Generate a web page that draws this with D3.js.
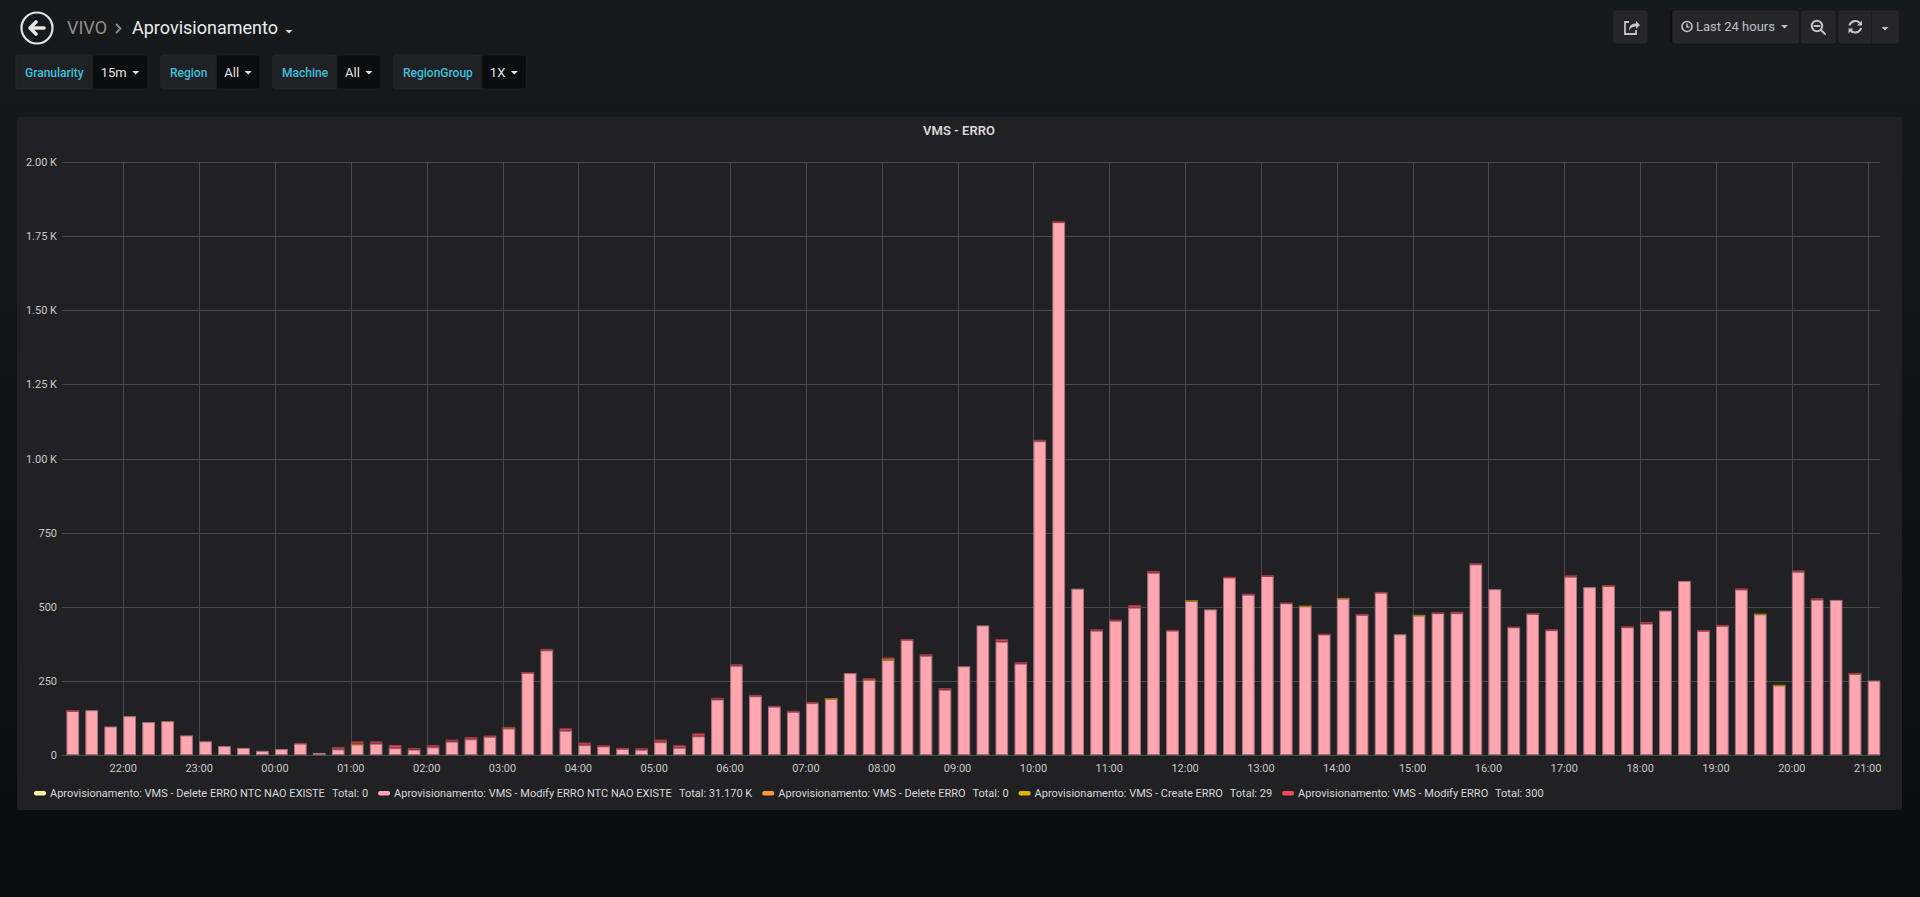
<!DOCTYPE html>
<html>
<head>
<meta charset="utf-8">
<title>VMS - ERRO</title>
<script src="https://cdn.jsdelivr.net/npm/d3@7"></script>
<style>
  html, body { margin: 0; padding: 0; overflow: hidden; background: #161719; }
  svg { display: block; font-family: Roboto, 'Noto Sans', sans-serif; }
</style>
</head>
<body>
<svg id="chart" width="1920" height="897"></svg>
<script>
// series, bottom of the stack first (same order as the legend)
const seriesNames = [
  'Aprovisionamento: VMS - Delete ERRO NTC NAO EXISTE',
  'Aprovisionamento: VMS - Modify ERRO NTC NAO EXISTE',
  'Aprovisionamento: VMS - Delete ERRO',
  'Aprovisionamento: VMS - Create ERRO',
  'Aprovisionamento: VMS - Modify ERRO'
];
const seriesColors = ['#fff899', '#ffa6b0', '#ff9830', '#e0b400', '#f2495c'];
const seriesTotals = ['0', '31.170 K', '0', '29', '300'];

// one value per 15m bucket, 21:15 -> 21:00 next day
const deleteNtc = [
  0,0,0,0,0,0,0,0,0,0, 0,0,0,0,0,0,0,0,0,0, 0,0,0,0,0,0,0,0,0,0, 0,0,0,0,0,0,0,0,0,0,
  0,0,0,0,0,0,0,0,0,0, 0,0,0,0,0,0,0,0,0,0, 0,0,0,0,0,0,0,0,0,0, 0,0,0,0,0,0,0,0,0,0,
  0,0,0,0,0,0,0,0,0,0, 0,0,0,0,0,0
];
const modifyNtc = [
  150,151,96,131,111,114,66,46,30,24,
  14,20,40,7,19,37,38,23,18,26,
  45,53,61,90,279,353,81,33,29,21,
  17,43,24,63,187,300,198,164,146,175,
  190,276,253,321,390,334,220,299,437,382,
  308,1058,1797,561,419,452,497,614,421,520,
  491,600,541,605,513,502,408,528,473,549,
  407,471,478,478,643,559,432,476,421,601,
  566,570,431,443,487,587,419,436,558,475,
  235,617,524,523,274,251
];
const deleteErro = [
  0,0,0,0,0,0,0,0,0,0, 0,0,0,0,0,0,0,0,0,0, 0,0,0,0,0,0,0,0,0,0, 0,0,0,0,0,0,0,0,0,0,
  0,0,0,0,0,0,0,0,0,0, 0,0,0,0,0,0,0,0,0,0, 0,0,0,0,0,0,0,0,0,0, 0,0,0,0,0,0,0,0,0,0,
  0,0,0,0,0,0,0,0,0,0, 0,0,0,0,0,0
];
const createErro = [
  0,0,0,0,0,0,0,0,0,0,
  0,0,0,0,0,1,0,0,0,0,
  0,0,0,2,0,0,0,0,0,0,
  0,0,0,0,0,0,0,0,0,0,
  2,0,3,3,0,0,0,0,0,0,
  0,0,0,0,0,0,0,0,0,2,
  0,0,0,0,0,2,0,2,0,0,
  0,2,0,0,0,0,0,2,0,0,
  0,2,0,0,0,0,0,0,0,2,
  2,0,0,0,2,0
];
const modifyErro = [
  1,0,0,0,0,0,0,0,0,0,
  0,0,1,0,8,8,8,11,6,8,
  7,8,5,3,1,5,9,9,4,3,
  6,9,9,10,6,6,5,2,3,4,
  0,0,3,5,1,6,6,0,0,9,
  5,5,3,0,5,5,9,7,1,0,
  0,1,3,1,1,0,1,0,3,1,
  0,0,3,5,4,0,1,1,3,5,
  0,1,3,6,0,0,3,3,4,0,
  0,6,5,0,1,0
];
const seriesValues = [deleteNtc, modifyNtc, deleteErro, createErro, modifyErro];

const yTicks = [0, 250, 500, 750, 1000, 1250, 1500, 1750, 2000];
const variableLabels = ['Granularity', 'Region', 'Machine', 'RegionGroup'];
const variableValues = ['15m', 'All', 'All', '1X'];

const rangeFrom = new Date(2019, 5, 10, 21, 11, 30);
const rangeTo = new Date(2019, 5, 11, 21, 9, 45);
const firstBucket = new Date(2019, 5, 10, 21, 15);
const times = d3.timeMinute.every(15).range(firstBucket, rangeTo);

const svg = d3.select('#chart');

// page background, a bit darker toward the bottom
const defs = svg.append('defs');
const bg = defs.append('linearGradient').attr('id', 'pagebg').attr('x1', 0).attr('x2', 0).attr('y1', 0).attr('y2', 1);
bg.append('stop').attr('offset', '0%').attr('stop-color', '#18191b');
bg.append('stop').attr('offset', '100%').attr('stop-color', '#0b0c0e');
svg.append('rect').attr('width', 1920).attr('height', 897).attr('fill', 'url(#pagebg)');

// ---------- header ----------
const head = svg.append('g');
head.append('circle').attr('cx', 37).attr('cy', 28).attr('r', 15.5)
    .attr('fill', 'none').attr('stroke', '#e4e4e4').attr('stroke-width', 2.2);
head.append('path').attr('d', 'M30,28 L36,22 M30,28 L36,34 M30.5,28 L44,28')
    .attr('fill', 'none').attr('stroke', '#e4e4e4').attr('stroke-width', 3.6)
    .attr('stroke-linecap', 'round').attr('stroke-linejoin', 'round');
head.append('text').attr('x', 67).attr('y', 34).attr('font-size', 18)
    .attr('fill', '#8e8e8e').text('VIVO');
head.append('path').attr('d', 'M116,24 L120.5,28.5 L116,33')
    .attr('fill', 'none').attr('stroke', '#8e8e8e').attr('stroke-width', 1.8);
head.append('text').attr('x', 132).attr('y', 34).attr('font-size', 18)
    .attr('fill', '#e9edf2').text('Aprovisionamento');
head.append('path').attr('d', 'M285.5,30 L292.5,30 L289,33.5 Z').attr('fill', '#d8d9da');

// template variables
const varStarts = [16, 161, 273, 394];
variableLabels.forEach(function(label, i){
  const g = svg.append('g').attr('transform', 'translate(' + varStarts[i] + ',55)');
  const lab = g.append('text').attr('x', 9).attr('y', 21.5).attr('font-size', 12)
      .attr('font-weight', 500).attr('fill', '#3ac0dc').text(label);
  const lw = lab.node().getComputedTextLength() + 18;
  const val = g.append('text').attr('x', lw + 8).attr('y', 22).attr('font-size', 13)
      .attr('fill', '#e3e3e3').text(variableValues[i]);
  const vw = val.node().getComputedTextLength() + 29;
  g.insert('rect', 'text').attr('width', lw).attr('height', 34).attr('rx', 2)
      .attr('fill', '#202124').attr('stroke', '#262629');
  g.insert('rect', 'text').attr('x', lw).attr('width', vw).attr('height', 34)
      .attr('fill', '#0b0c0e').attr('stroke', '#1d1e21');
  const cx = lw + vw - 12;
  g.append('path').attr('d', 'M' + (cx - 3.5) + ',16 L' + (cx + 3.5) + ',16 L' + cx + ',19.5 Z')
      .attr('fill', '#e3e3e3');
});

// toolbar on the right
const tb = svg.append('g');
function button(x, w){
  tb.append('rect').attr('x', x).attr('y', 11).attr('width', w).attr('height', 32).attr('rx', 2)
      .attr('fill', '#262628').attr('stroke', '#2b2b2e');
}
button(1614, 33);
button(1673, 125);
button(1802, 33);
button(1839, 59);
tb.append('line').attr('x1', 1871.5).attr('x2', 1871.5).attr('y1', 11).attr('y2', 43).attr('stroke', '#1d1d1f');
tb.append('line').attr('x1', 1671).attr('x2', 1671).attr('y1', 11).attr('y2', 43).attr('stroke', '#0d0d0f').attr('stroke-width', 2);
const ic = '#c2c2c4';
// share icon
tb.append('path').attr('d', 'M1636,30 V34 H1625 V22 H1629')
    .attr('fill', 'none').attr('stroke', ic).attr('stroke-width', 1.8);
tb.append('path').attr('d', 'M1629,31 C1629,25 1632,23.5 1636,23.5 V21 L1640,25 L1636,29 V26.5 C1633,26.5 1630.5,27.5 1629,31 Z')
    .attr('fill', ic);
// clock + time range
tb.append('circle').attr('cx', 1687).attr('cy', 26.5).attr('r', 5).attr('fill', 'none')
    .attr('stroke', ic).attr('stroke-width', 1.6);
tb.append('path').attr('d', 'M1687,23.5 V27 H1689.5').attr('fill', 'none').attr('stroke', ic).attr('stroke-width', 1.4);
tb.append('text').attr('x', 1696).attr('y', 31).attr('font-size', 13).attr('fill', '#bcc0c5').text('Last 24 hours');
tb.append('path').attr('d', 'M1781,25 L1788,25 L1784.5,28.5 Z').attr('fill', ic);
// zoom out
tb.append('circle').attr('cx', 1817).attr('cy', 26).attr('r', 5.2).attr('fill', 'none')
    .attr('stroke', ic).attr('stroke-width', 2);
tb.append('path').attr('d', 'M1814.5,26 H1819.5 M1821,30 L1825,34').attr('stroke', ic)
    .attr('stroke-width', 2).attr('stroke-linecap', 'round');
// refresh
tb.append('path').attr('d', 'M1849.5,25.5 A6,6 0 0 1 1860.5,24 M1861,28 A6,6 0 0 1 1850,29.5')
    .attr('fill', 'none').attr('stroke', ic).attr('stroke-width', 2.2);
tb.append('path').attr('d', 'M1862,20.5 V25.5 H1857 Z M1848.5,33.5 V28.5 H1853.5 Z').attr('fill', ic);
tb.append('path').attr('d', 'M1881.5,27 L1888.5,27 L1885,30.5 Z').attr('fill', ic);

// ---------- panel ----------
const panel = {x: 17, y: 117, w: 1885, h: 693};
svg.append('rect').attr('x', panel.x).attr('y', panel.y).attr('width', panel.w).attr('height', panel.h)
    .attr('rx', 3).attr('fill', '#212124');
svg.append('text').attr('x', 959).attr('y', 135).attr('text-anchor', 'middle')
    .attr('font-size', 13).attr('font-weight', 600).attr('fill', '#d8d9da').text('VMS - ERRO');

const plot = {left: 62, right: 1880, top: 162, bottom: 755};

const x = d3.scaleTime().domain([rangeFrom, rangeTo]).range([plot.left, plot.right]);
const y = d3.scaleLinear().domain([0, 2000]).range([plot.bottom, plot.top]);

function fmtY(v){
  if (v === 0) return '0';
  if (v < 1000) return String(v);
  return (v / 1000).toFixed(2) + ' K';
}

const grid = svg.append('g').attr('stroke', '#4a4a4d').attr('stroke-width', 1);
const hours = x.ticks(d3.timeHour.every(1));
grid.selectAll('.vline').data(hours).enter().append('line')
    .attr('x1', d => Math.round(x(d)) + 0.5).attr('x2', d => Math.round(x(d)) + 0.5)
    .attr('y1', plot.top).attr('y2', plot.bottom);
grid.selectAll('.hline').data(yTicks).enter().append('line')
    .attr('x1', plot.left).attr('x2', plot.right)
    .attr('y1', d => Math.round(y(d)) + 0.5).attr('y2', d => Math.round(y(d)) + 0.5);

// y axis labels
svg.append('g').selectAll('text').data(yTicks).enter().append('text')
    .attr('x', 57).attr('y', d => y(d) + 4).attr('text-anchor', 'end')
    .attr('font-size', 11).attr('fill', '#c8c9ca').text(fmtY);

// x axis labels
const fmtX = d3.timeFormat('%H:%M');
svg.append('g').selectAll('text').data(hours).enter().append('text')
    .attr('x', d => x(d)).attr('y', 772).attr('text-anchor', 'middle')
    .attr('font-size', 11).attr('fill', '#c8c9ca').text(fmtX);

// stacked bars
const rows = times.map(function(t, i){
  const r = {time: t};
  seriesValues.forEach(function(s, k){ r['s' + k] = s[i]; });
  return r;
});
const keys = seriesNames.map((n, k) => 's' + k);
const stacked = d3.stack().keys(keys)(rows);

const step = x(d3.timeMinute.offset(times[0], 15)) - x(times[0]);
const barW = step * 0.67;

const layers = svg.append('g').selectAll('g').data(stacked).enter().append('g')
    .attr('fill', (d, k) => seriesColors[k])
    .attr('stroke', (d, k) => d3.interpolateRgb(seriesColors[k], '#212124')(0.4));
layers.selectAll('rect').data(d => d.filter(p => p[1] - p[0] > 0)).enter().append('rect')
    .attr('x', d => x(d.data.time) + 0.5)
    .attr('width', barW - 1)
    .attr('y', d => y(d[1]) + 0.5)
    .attr('height', d => Math.max(0.6, y(d[0]) - y(d[1]) - 1))
    .attr('stroke-width', 1);

// legend
const legend = svg.append('g').attr('font-size', 11).attr('fill', '#d8d9da');
let lx = 34;
seriesNames.forEach(function(name, k){
  legend.append('rect').attr('x', lx).attr('y', 791).attr('width', 12).attr('height', 4.5)
      .attr('rx', 2).attr('fill', seriesColors[k]);
  const t = legend.append('text').attr('x', lx + 16).attr('y', 797);
  t.append('tspan').text(name);
  t.append('tspan').attr('dx', 7).text('Total: ' + seriesTotals[k]);
  // computed length leaves out the dx gap, so add it back
  lx += 16 + t.node().getComputedTextLength() + 7 + 10;
});
</script>
</body>
</html>
